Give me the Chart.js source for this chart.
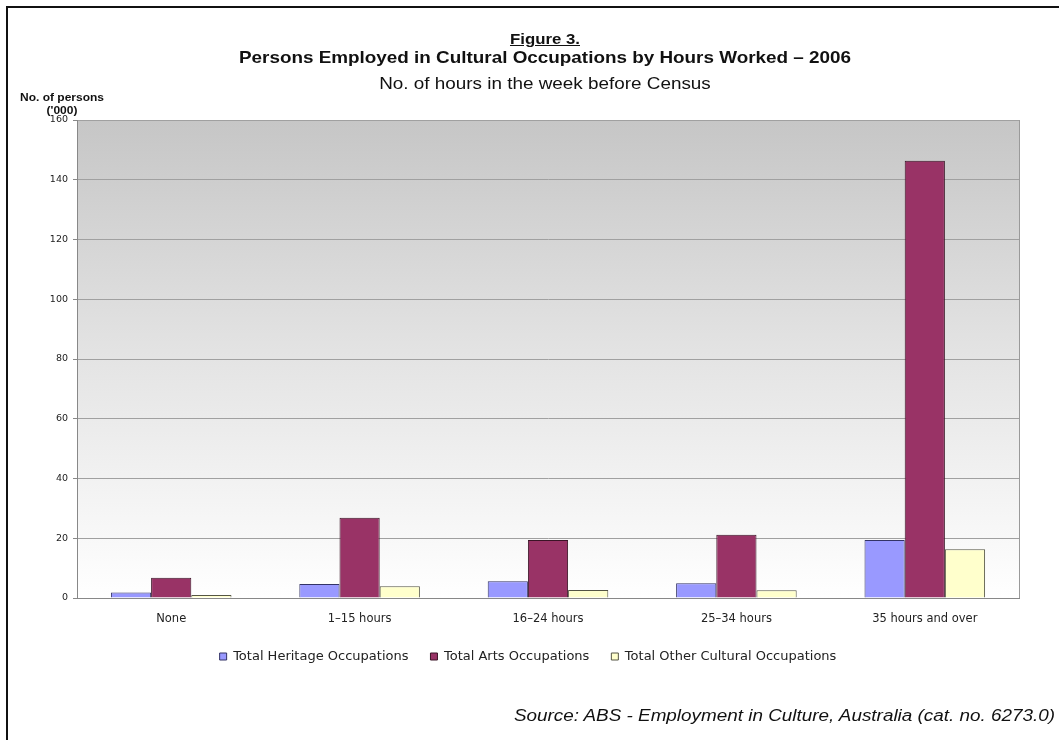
<!DOCTYPE html>
<html>
<head>
<meta charset="utf-8">
<script src="https://cdn.jsdelivr.net/npm/chart.js@4/dist/chart.umd.min.js"></script>
<style>
  body { margin: 0; background: #fff; font-family: "Liberation Sans", Arial, sans-serif; }
  #wrap { position: relative; width: 1059px; height: 740px; overflow: hidden; }
  #frame { position: absolute; left: 6px; top: 6px; width: 1060px; height: 740px; border-left: 2px solid #111; border-top: 2px solid #111; }
  canvas { position: absolute; left: 0; top: 0; }
  .t { position: absolute; color: #111; white-space: nowrap; transform-origin: 50% 50%; }
</style>
</head>
<body>
<div id="wrap">
  <div id="frame"></div>
  <canvas id="bar-hours" width="1059" height="740"></canvas>
  <div class="t" style="left:0;width:1090px;top:30px;text-align:center;font-weight:bold;font-size:15px;text-decoration:underline;transform:scaleX(1.12);">Figure 3.</div>
  <div class="t" style="left:0;width:1090px;top:48px;text-align:center;font-weight:bold;font-size:17px;transform:scaleX(1.11);">Persons Employed in Cultural Occupations by Hours Worked – 2006</div>
  <div class="t" style="left:0;width:1090px;top:75px;text-align:center;font-size:16px;transform:scaleX(1.18);">No. of hours in the week before Census</div>
  <div class="t" style="left:14px;width:96px;top:91px;text-align:center;font-weight:bold;font-size:10px;line-height:13px;transform:scaleX(1.2);">No. of persons<br>('000)</div>
  <div class="t" style="left:400px;width:655px;top:707px;text-align:right;font-style:italic;font-size:16px;transform-origin:100% 50%;transform:scaleX(1.18);">Source: ABS - Employment in Culture, Australia (cat. no. 6273.0)</div>
</div>
<script>
const categories = ['None', '1–15 hours', '16–24 hours', '25–34 hours', '35 hours and over'];
const heritage = [1.8, 4.7, 5.6, 4.9, 19.4];
const arts = [6.8, 26.9, 19.4, 21.2, 146.4];
const other = [1.0, 3.9, 2.7, 2.6, 16.3];
const yTicks = [0, 20, 40, 60, 80, 100, 120, 140, 160];

// grey fade behind the plot, like the old Excel chart
const plotBg = {
  id: 'plotBg',
  beforeDraw(chart) {
    const { ctx, chartArea: a } = chart;
    const g = ctx.createLinearGradient(0, a.top, 0, a.bottom);
    g.addColorStop(0, '#c6c6c6');
    g.addColorStop(0.5, '#e4e4e4');
    g.addColorStop(1, '#ffffff');
    ctx.save();
    ctx.fillStyle = g;
    ctx.fillRect(a.left, a.top, a.right - a.left, a.bottom - a.top);
    ctx.strokeStyle = '#9a9a9a';
    ctx.lineWidth = 1;
    ctx.strokeRect(a.left + 0.5, a.top + 0.5, a.right - a.left, a.bottom - a.top);
    ctx.restore();
  }
};

const dataHours = {
  labels: categories,
  datasets: [
    { label: 'Total Heritage Occupations', data: heritage, backgroundColor: '#9999FF', borderColor: '#333366', borderWidth: 1 },
    { label: 'Total Arts Occupations', data: arts, backgroundColor: '#993366', borderColor: '#3a1426', borderWidth: 1 },
    { label: 'Total Other Cultural Occupations', data: other, backgroundColor: '#FFFFCC', borderColor: '#555544', borderWidth: 1 }
  ]
};

const configHours = {
  type: 'bar',
  data: dataHours,
  plugins: [plotBg],
  options: {
    responsive: false,
    animation: false,
    layout: { padding: { left: 37, top: 120, right: 40, bottom: 67 } },
    datasets: { bar: { barPercentage: 1, categoryPercentage: 0.64 } },
    plugins: {
      tooltip: { enabled: false },
      legend: {
        position: 'bottom',
        labels: {
          color: '#222',
          font: { family: 'DejaVu Sans', size: 13 },
          boxWidth: 7,
          boxHeight: 7,
          padding: 22
        }
      }
    },
    scales: {
      x: {
        grid: { display: false, drawTicks: false },
        border: { color: '#888' },
        ticks: { color: '#222', font: { family: 'DejaVu Sans', size: 11.5 }, padding: 14 },
        afterFit: (s) => { s.height = 30; }
      },
      y: {
        min: 0,
        max: 160,
        afterBuildTicks: (s) => { s.ticks = yTicks.map(v => ({ value: v })); },
        grid: { color: '#a0a0a0', tickLength: 4, tickColor: '#888' },
        border: { color: '#888' },
        ticks: { color: '#222', font: { family: 'DejaVu Sans', size: 9.5 }, padding: 5 },
        afterFit: (s) => { s.width = 40; }
      }
    }
  }
};

let barHours = new Chart(document.getElementById('bar-hours'), configHours);
</script>
</body>
</html>
